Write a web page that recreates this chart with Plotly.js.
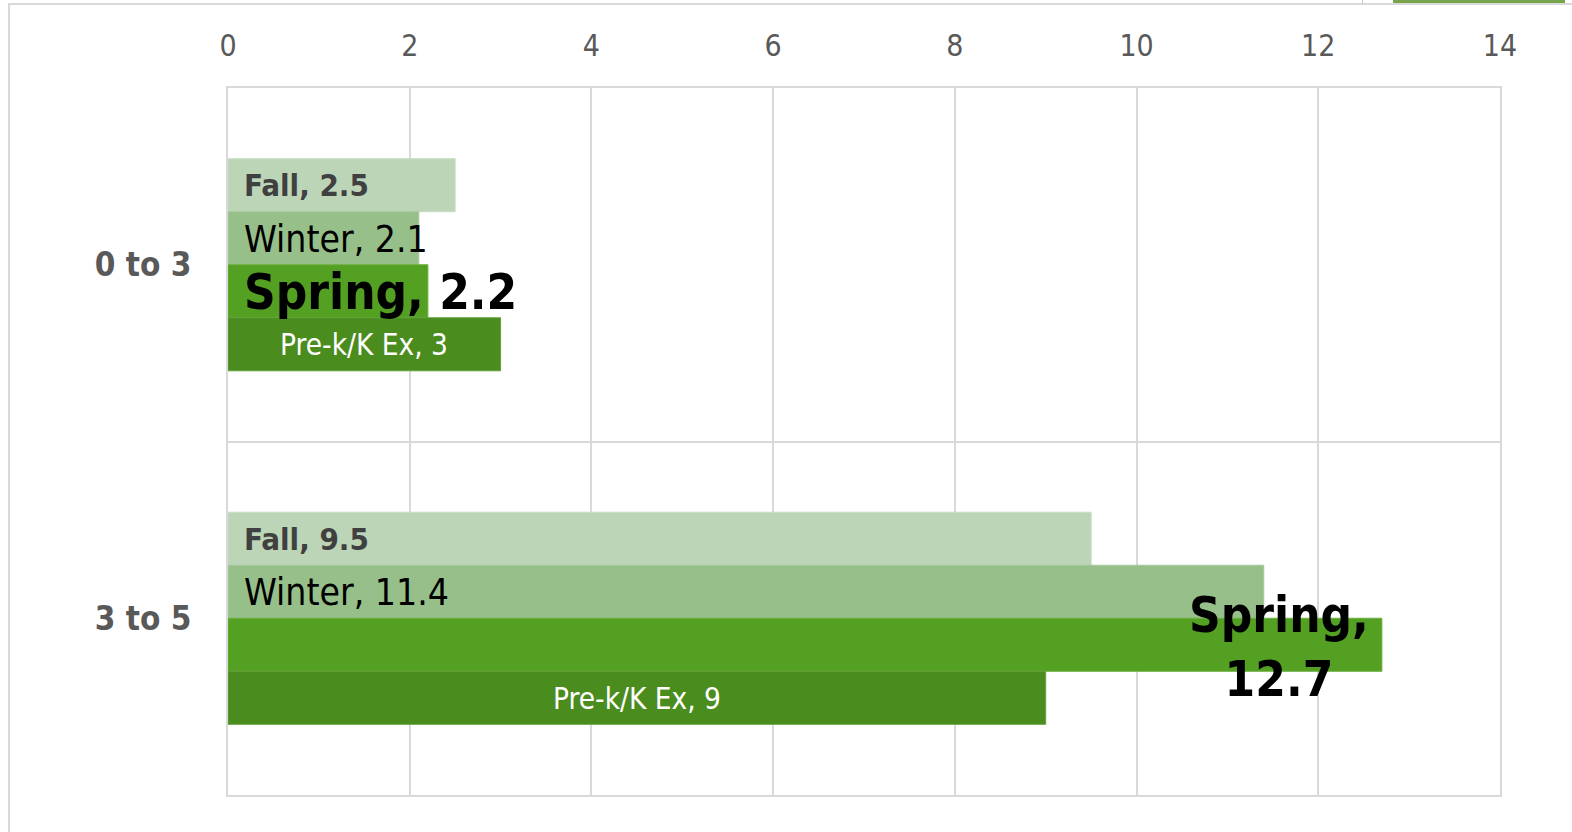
<!DOCTYPE html>
<html>
<head>
<meta charset="utf-8">
<script src="https://cdn.plot.ly/plotly-3.0.1.min.js"></script>
<style>
  html, body { margin: 0; padding: 0; background: #ffffff; }
  #wrap { position: relative; width: 1572px; height: 832px; overflow: hidden; }
  #chart { position: absolute; left: 0; top: 0; width: 1572px; height: 832px; }
  #frameTop { position: absolute; left: 9px; top: 3px; width: 1563px; height: 0; border-top: 2px solid #d9d9d9; }
  #frameLeft { position: absolute; left: 8px; top: 3px; width: 0; height: 829px; border-left: 2px solid #d9d9d9; }
  #tab { position: absolute; left: 1393px; top: 0; width: 172px; height: 3px; background: #77a34b; }
  #tick { position: absolute; left: 1362px; top: 0; width: 1px; height: 4px; background: #c8c8c8; }
</style>
</head>
<body>
<div id="wrap">
  <div id="chart"></div>
  <div id="frameTop"></div>
  <div id="frameLeft"></div>
  <div id="tab"></div>
  <div id="tick"></div>
</div>
<script>
// ---- data ----
const categories = ["0 to 3", "3 to 5"];
const seriesNames = ["Fall", "Winter", "Spring", "Pre-k/K Ex"];
const fallValues = [2.5, 9.5];
const winterValues = [2.1, 11.4];
const springValues = [2.2, 12.7];
const prekValues = [3, 9];
const xTickValues = [0, 2, 4, 6, 8, 10, 12, 14];

// ---- styling ----
const FONT = "Tahoma, 'DejaVu Sans Condensed', 'DejaVu Sans', sans-serif";
const colors = ["#bdd5b7", "#97bf8a", "#54a022", "#4a8c1e"];
const edgeColors = ["#c9ddc4", "#a6c89b", "#6aae3e", "#62a03a"];
const allValues = [fallValues, winterValues, springValues, prekValues];

const traces = allValues.map((vals, k) => ({
  type: "bar",
  orientation: "h",
  name: seriesNames[k],
  y: categories,
  x: vals,
  marker: { color: colors[k], line: { color: edgeColors[k], width: 1 } },
  hoverinfo: "skip",
  showlegend: false
}));

// bar centre offsets inside each category (bargap 0.4, 4 bars of 0.15)
const nBars = allValues.length;
const groupWidth = 0.6;
const barW = groupWidth / nBars;
function barOffset(k) { return -groupWidth / 2 + barW * (k + 0.5); }

const annotations = [];
categories.forEach((cat, i) => {
  // Fall
  annotations.push({
    x: 0, y: i + barOffset(0), xref: "x", yref: "y",
    text: seriesNames[0] + ", " + fallValues[i],
    showarrow: false, xanchor: "left", yanchor: "middle", xshift: 14,
    font: { family: FONT, size: 31, color: "#404040", weight: "bold" }
  });
  // Winter
  annotations.push({
    x: 0, y: i + barOffset(1), xref: "x", yref: "y",
    text: seriesNames[1] + ", " + winterValues[i],
    showarrow: false, xanchor: "left", yanchor: "middle", xshift: 14, yshift: -1,
    font: { family: FONT, size: 37, color: "#000000" }
  });
  // Spring
  if (i === 0) {
    annotations.push({
      x: 0, y: i + barOffset(2), xref: "x", yref: "y",
      text: seriesNames[2] + ", " + springValues[i],
      showarrow: false, xanchor: "left", yanchor: "middle", xshift: 14, yshift: -1,
      font: { family: FONT, size: 49, color: "#000000", weight: "bold" }
    });
  } else {
    annotations.push({
      x: springValues[i], y: i + barOffset(2), xref: "x", yref: "y",
      text: seriesNames[2] + ",<br>" + springValues[i],
      showarrow: false, xanchor: "right", yanchor: "middle", xshift: -11, yshift: -3,
      align: "center",
      font: { family: FONT, size: 49, color: "#000000", weight: "bold" }
    });
  }
  // Pre-k/K Ex
  annotations.push({
    x: prekValues[i] / 2, y: i + barOffset(3), xref: "x", yref: "y",
    text: seriesNames[3] + ", " + prekValues[i],
    showarrow: false, xanchor: "center", yanchor: "middle", yshift: -1,
    font: { family: FONT, size: 29.5, color: "#ffffff" }
  });
});

const layout = {
  width: 1572,
  height: 832,
  margin: { l: 228, r: 72, t: 88, b: 37, pad: 0 },
  paper_bgcolor: "#ffffff",
  plot_bgcolor: "#ffffff",
  barmode: "group",
  bargap: 0.4,
  bargroupgap: 0,
  showlegend: false,
  font: { family: FONT },
  xaxis: {
    side: "top",
    range: [0, 14],
    tickvals: xTickValues,
    ticktext: xTickValues.map(String),
    showgrid: true,
    gridcolor: "#d9d9d9",
    gridwidth: 2,
    zeroline: false,
    showline: true,
    mirror: true,
    linecolor: "#d9d9d9",
    linewidth: 2,
    ticks: "",
    ticklabelstandoff: 18,
    tickfont: { family: FONT, size: 30, color: "#595959" },
    fixedrange: true
  },
  yaxis: {
    type: "category",
    categoryorder: "array",
    categoryarray: categories,
    range: [1.5, -0.5],
    tickson: "boundaries",
    showgrid: true,
    gridcolor: "#d9d9d9",
    gridwidth: 2,
    zeroline: false,
    showline: true,
    mirror: true,
    linecolor: "#d9d9d9",
    linewidth: 2,
    ticks: "",
    ticklabelstandoff: 28,
    tickfont: { family: FONT, size: 33, color: "#595959", weight: "bold" },
    fixedrange: true
  },
  annotations: annotations
};

Plotly.newPlot("chart", traces, layout, { displayModeBar: false, staticPlot: true });
</script>
</body>
</html>
